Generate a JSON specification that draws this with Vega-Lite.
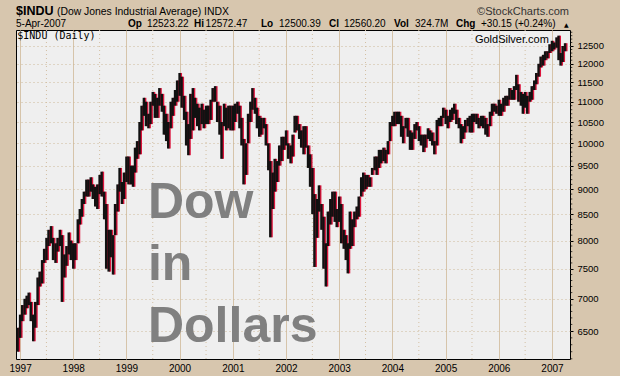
{
"$schema":"https://vega.github.io/schema/vega-lite/v6.json",
"width":554,"height":329,
"autosize":{"type":"none"},
"padding":{"left":16,"top":30,"right":50,"bottom":17},
"background":"#d7c6ae",
"config":{"view":{"fill":"#efefef","stroke":"#000000","strokeWidth":1},"font":"Liberation Sans"},
"datasets":{
"px":[
{"t":"1996-12-15","h":6550,"l":6200},
{"t":"1997-01-01","h":6750,"l":6400},
{"t":"1997-01-15","h":6900,"l":6650},
{"t":"1997-02-01","h":7000,"l":6750},
{"t":"1997-02-15","h":7050,"l":6850},
{"t":"1997-03-01","h":7100,"l":6900},
{"t":"1997-03-15","h":6950,"l":6650},
{"t":"1997-04-01","h":6750,"l":6350},
{"t":"1997-04-15","h":6950,"l":6550},
{"t":"1997-05-01","h":7350,"l":6900},
{"t":"1997-05-15","h":7450,"l":7200},
{"t":"1997-06-01","h":7650,"l":7250},
{"t":"1997-06-15","h":7850,"l":7600},
{"t":"1997-07-01","h":8050,"l":7650},
{"t":"1997-07-15","h":8200,"l":7900},
{"t":"1997-08-01","h":8270,"l":7950},
{"t":"1997-08-15","h":8050,"l":7650},
{"t":"1997-09-01","h":7950,"l":7600},
{"t":"1997-09-15","h":8050,"l":7800},
{"t":"1997-10-01","h":8200,"l":7900},
{"t":"1997-10-15","h":8100,"l":6950},
{"t":"1997-11-01","h":7750,"l":7350},
{"t":"1997-11-15","h":7900,"l":7550},
{"t":"1997-12-01","h":8150,"l":7750},
{"t":"1997-12-15","h":8000,"l":7650},
{"t":"1998-01-01","h":7950,"l":7500},
{"t":"1998-01-15","h":7950,"l":7650},
{"t":"1998-02-01","h":8400,"l":7950},
{"t":"1998-02-15","h":8600,"l":8300},
{"t":"1998-03-01","h":8800,"l":8450},
{"t":"1998-03-15","h":8950,"l":8700},
{"t":"1998-04-01","h":9200,"l":8850},
{"t":"1998-04-15","h":9200,"l":8850},
{"t":"1998-05-01","h":9250,"l":8950},
{"t":"1998-05-15","h":9100,"l":8800},
{"t":"1998-06-01","h":9050,"l":8650},
{"t":"1998-06-15","h":9100,"l":8600},
{"t":"1998-07-01","h":9300,"l":8900},
{"t":"1998-07-15","h":9370,"l":8850},
{"t":"1998-08-01","h":8950,"l":8400},
{"t":"1998-08-15","h":8700,"l":7500},
{"t":"1998-09-01","h":8200,"l":7450},
{"t":"1998-09-15","h":8200,"l":7700},
{"t":"1998-10-01","h":8100,"l":7400},
{"t":"1998-10-15","h":8700,"l":8100},
{"t":"1998-11-01","h":9100,"l":8550},
{"t":"1998-11-15","h":9450,"l":8950},
{"t":"1998-12-01","h":9150,"l":8700},
{"t":"1998-12-15","h":9350,"l":8800},
{"t":"1999-01-01","h":9700,"l":9150},
{"t":"1999-01-15","h":9700,"l":9100},
{"t":"1999-02-01","h":9500,"l":9100},
{"t":"1999-02-15","h":9500,"l":9050},
{"t":"1999-03-01","h":9900,"l":9350},
{"t":"1999-03-15","h":10050,"l":9650},
{"t":"1999-04-01","h":10500,"l":9750},
{"t":"1999-04-15","h":10900,"l":10300},
{"t":"1999-05-01","h":11100,"l":10650},
{"t":"1999-05-15","h":11000,"l":10400},
{"t":"1999-06-01","h":10700,"l":10350},
{"t":"1999-06-15","h":11000,"l":10450},
{"t":"1999-07-01","h":11250,"l":10900},
{"t":"1999-07-15","h":11200,"l":10600},
{"t":"1999-08-01","h":11100,"l":10600},
{"t":"1999-08-15","h":11350,"l":10900},
{"t":"1999-09-01","h":11200,"l":10750},
{"t":"1999-09-15","h":10900,"l":10200},
{"t":"1999-10-01","h":10700,"l":10050},
{"t":"1999-10-15","h":10500,"l":9880},
{"t":"1999-11-01","h":11000,"l":10350},
{"t":"1999-11-15","h":11100,"l":10650},
{"t":"1999-12-01","h":11300,"l":10900},
{"t":"1999-12-15","h":11550,"l":11000},
{"t":"2000-01-01","h":11750,"l":11150},
{"t":"2000-01-15","h":11650,"l":10850},
{"t":"2000-02-01","h":11150,"l":10550},
{"t":"2000-02-15","h":10750,"l":9950},
{"t":"2000-03-01","h":10450,"l":9730},
{"t":"2000-03-15","h":11200,"l":10100},
{"t":"2000-04-01","h":11350,"l":10300},
{"t":"2000-04-15","h":11100,"l":10600},
{"t":"2000-05-01","h":10950,"l":10400},
{"t":"2000-05-15","h":10850,"l":10300},
{"t":"2000-06-01","h":10950,"l":10450},
{"t":"2000-06-15","h":10800,"l":10350},
{"t":"2000-07-01","h":10900,"l":10450},
{"t":"2000-07-15","h":10900,"l":10450},
{"t":"2000-08-01","h":11050,"l":10550},
{"t":"2000-08-15","h":11350,"l":11000},
{"t":"2000-09-01","h":11400,"l":11000},
{"t":"2000-09-15","h":11000,"l":10500},
{"t":"2000-10-01","h":10900,"l":10200},
{"t":"2000-10-15","h":10500,"l":9650},
{"t":"2000-11-01","h":10950,"l":10400},
{"t":"2000-11-15","h":10850,"l":10300},
{"t":"2000-12-01","h":10900,"l":10350},
{"t":"2000-12-15","h":10900,"l":10300},
{"t":"2001-01-01","h":10900,"l":10300},
{"t":"2001-01-15","h":10950,"l":10500},
{"t":"2001-02-01","h":11000,"l":10700},
{"t":"2001-02-15","h":10900,"l":10350},
{"t":"2001-03-01","h":10600,"l":9950},
{"t":"2001-03-15","h":10100,"l":9100},
{"t":"2001-04-01","h":10000,"l":9300},
{"t":"2001-04-15","h":10700,"l":10000},
{"t":"2001-05-01","h":11000,"l":10500},
{"t":"2001-05-15","h":11350,"l":10800},
{"t":"2001-06-01","h":11100,"l":10700},
{"t":"2001-06-15","h":10850,"l":10350},
{"t":"2001-07-01","h":10650,"l":10150},
{"t":"2001-07-15","h":10600,"l":10200},
{"t":"2001-08-01","h":10600,"l":10350},
{"t":"2001-08-15","h":10450,"l":9950},
{"t":"2001-09-01","h":10000,"l":9400},
{"t":"2001-09-15","h":9600,"l":8060},
{"t":"2001-10-01","h":9350,"l":8600},
{"t":"2001-10-15","h":9650,"l":8950},
{"t":"2001-11-01","h":9600,"l":9150},
{"t":"2001-11-15","h":9950,"l":9500},
{"t":"2001-12-01","h":10150,"l":9600},
{"t":"2001-12-15","h":10150,"l":9850},
{"t":"2002-01-01","h":10300,"l":9950},
{"t":"2002-01-15","h":10000,"l":9650},
{"t":"2002-02-01","h":9950,"l":9550},
{"t":"2002-02-15","h":10200,"l":9700},
{"t":"2002-03-01","h":10650,"l":10250},
{"t":"2002-03-15","h":10650,"l":10300},
{"t":"2002-04-01","h":10450,"l":10100},
{"t":"2002-04-15","h":10300,"l":9900},
{"t":"2002-05-01","h":10400,"l":9750},
{"t":"2002-05-15","h":10400,"l":9900},
{"t":"2002-06-01","h":9950,"l":9450},
{"t":"2002-06-15","h":9750,"l":9050},
{"t":"2002-07-01","h":9450,"l":8500},
{"t":"2002-07-15","h":8900,"l":7530},
{"t":"2002-08-01","h":8800,"l":8050},
{"t":"2002-08-15","h":9080,"l":8550},
{"t":"2002-09-01","h":8700,"l":8200},
{"t":"2002-09-15","h":8450,"l":7500},
{"t":"2002-10-01","h":7950,"l":7200},
{"t":"2002-10-15","h":8550,"l":7900},
{"t":"2002-11-01","h":8800,"l":8300},
{"t":"2002-11-15","h":8950,"l":8450},
{"t":"2002-12-01","h":8950,"l":8350},
{"t":"2002-12-15","h":8600,"l":8250},
{"t":"2003-01-01","h":8850,"l":8350},
{"t":"2003-01-15","h":8700,"l":7950},
{"t":"2003-02-01","h":8200,"l":7850},
{"t":"2003-02-15","h":8100,"l":7650},
{"t":"2003-03-01","h":7950,"l":7420},
{"t":"2003-03-15","h":8550,"l":7850},
{"t":"2003-04-01","h":8400,"l":7900},
{"t":"2003-04-15","h":8550,"l":8250},
{"t":"2003-05-01","h":8650,"l":8400},
{"t":"2003-05-15","h":8850,"l":8450},
{"t":"2003-06-01","h":9250,"l":8850},
{"t":"2003-06-15","h":9350,"l":8950},
{"t":"2003-07-01","h":9300,"l":9000},
{"t":"2003-07-15","h":9300,"l":9050},
{"t":"2003-08-01","h":9250,"l":9050},
{"t":"2003-08-15","h":9450,"l":9300},
{"t":"2003-09-01","h":9700,"l":9400},
{"t":"2003-09-15","h":9700,"l":9300},
{"t":"2003-10-01","h":9850,"l":9450},
{"t":"2003-10-15","h":9850,"l":9550},
{"t":"2003-11-01","h":9900,"l":9600},
{"t":"2003-11-15","h":9850,"l":9550},
{"t":"2003-12-01","h":10050,"l":9750},
{"t":"2003-12-15","h":10500,"l":10050},
{"t":"2004-01-01","h":10650,"l":10400},
{"t":"2004-01-15","h":10750,"l":10400},
{"t":"2004-02-01","h":10750,"l":10450},
{"t":"2004-02-15","h":10750,"l":10450},
{"t":"2004-03-01","h":10650,"l":10150},
{"t":"2004-03-15","h":10400,"l":10000},
{"t":"2004-04-01","h":10600,"l":10350},
{"t":"2004-04-15","h":10600,"l":10150},
{"t":"2004-05-01","h":10300,"l":9850},
{"t":"2004-05-15","h":10250,"l":9850},
{"t":"2004-06-01","h":10450,"l":10100},
{"t":"2004-06-15","h":10500,"l":10300},
{"t":"2004-07-01","h":10400,"l":10050},
{"t":"2004-07-15","h":10200,"l":9950},
{"t":"2004-08-01","h":10200,"l":9800},
{"t":"2004-08-15","h":10200,"l":9900},
{"t":"2004-09-01","h":10350,"l":10100},
{"t":"2004-09-15","h":10300,"l":10050},
{"t":"2004-10-01","h":10250,"l":9950},
{"t":"2004-10-15","h":10050,"l":9750},
{"t":"2004-11-01","h":10550,"l":9950},
{"t":"2004-11-15","h":10600,"l":10400},
{"t":"2004-12-01","h":10650,"l":10400},
{"t":"2004-12-15","h":10850,"l":10600},
{"t":"2005-01-01","h":10800,"l":10450},
{"t":"2005-01-15","h":10650,"l":10350},
{"t":"2005-02-01","h":10800,"l":10500},
{"t":"2005-02-15","h":10850,"l":10550},
{"t":"2005-03-01","h":10950,"l":10700},
{"t":"2005-03-15","h":10800,"l":10450},
{"t":"2005-04-01","h":10600,"l":10350},
{"t":"2005-04-15","h":10450,"l":10000},
{"t":"2005-05-01","h":10400,"l":10100},
{"t":"2005-05-15","h":10550,"l":10250},
{"t":"2005-06-01","h":10600,"l":10400},
{"t":"2005-06-15","h":10650,"l":10250},
{"t":"2005-07-01","h":10700,"l":10250},
{"t":"2005-07-15","h":10700,"l":10500},
{"t":"2005-08-01","h":10700,"l":10450},
{"t":"2005-08-15","h":10600,"l":10350},
{"t":"2005-09-01","h":10650,"l":10400},
{"t":"2005-09-15","h":10650,"l":10350},
{"t":"2005-10-01","h":10600,"l":10200},
{"t":"2005-10-15","h":10450,"l":10150},
{"t":"2005-11-01","h":10750,"l":10400},
{"t":"2005-11-15","h":10950,"l":10650},
{"t":"2005-12-01","h":10950,"l":10750},
{"t":"2005-12-15","h":10900,"l":10700},
{"t":"2006-01-01","h":11050,"l":10650},
{"t":"2006-01-15","h":10950,"l":10650},
{"t":"2006-02-01","h":11100,"l":10750},
{"t":"2006-02-15","h":11150,"l":10900},
{"t":"2006-03-01","h":11150,"l":10900},
{"t":"2006-03-15","h":11350,"l":11050},
{"t":"2006-04-01","h":11300,"l":11050},
{"t":"2006-04-15","h":11400,"l":11050},
{"t":"2006-05-01","h":11700,"l":11300},
{"t":"2006-05-15","h":11450,"l":11000},
{"t":"2006-06-01","h":11250,"l":10900},
{"t":"2006-06-15","h":11200,"l":10700},
{"t":"2006-07-01","h":11250,"l":10850},
{"t":"2006-07-15","h":11150,"l":10700},
{"t":"2006-08-01","h":11250,"l":11000},
{"t":"2006-08-15","h":11400,"l":11050},
{"t":"2006-09-01","h":11550,"l":11300},
{"t":"2006-09-15","h":11750,"l":11450},
{"t":"2006-10-01","h":12000,"l":11650},
{"t":"2006-10-15","h":12200,"l":11900},
{"t":"2006-11-01","h":12250,"l":11950},
{"t":"2006-11-15","h":12350,"l":12100},
{"t":"2006-12-01","h":12350,"l":12150},
{"t":"2006-12-15","h":12550,"l":12300},
{"t":"2007-01-01","h":12650,"l":12350},
{"t":"2007-01-15","h":12600,"l":12400},
{"t":"2007-02-01","h":12750,"l":12450},
{"t":"2007-02-15","h":12800,"l":12100},
{"t":"2007-03-01","h":12300,"l":11950},
{"t":"2007-03-15","h":12500,"l":12050},
{"t":"2007-04-01","h":12580,"l":12350}
],
"mid":[{"t":"1997-07-01"},{"t":"1998-07-01"},{"t":"1999-07-01"},{"t":"2000-07-01"},{"t":"2001-07-01"},{"t":"2002-07-01"},{"t":"2003-07-01"},{"t":"2004-07-01"},{"t":"2005-07-01"},{"t":"2006-07-01"}],
"minor":[{"v":6100},{"v":6200},{"v":6300},{"v":6400},{"v":6600},{"v":6700},{"v":6800},{"v":6900},{"v":7100},{"v":7200},{"v":7300},{"v":7400},{"v":7600},{"v":7700},{"v":7800},{"v":7900},{"v":8100},{"v":8200},{"v":8300},{"v":8400},{"v":8600},{"v":8700},{"v":8800},{"v":8900},{"v":9100},{"v":9200},{"v":9300},{"v":9400},{"v":9600},{"v":9700},{"v":9800},{"v":9900},{"v":10100},{"v":10200},{"v":10300},{"v":10400},{"v":10600},{"v":10700},{"v":10800},{"v":10900},{"v":11100},{"v":11200},{"v":11300},{"v":11400},{"v":11600},{"v":11700},{"v":11800},{"v":11900},{"v":12100},{"v":12200},{"v":12300},{"v":12400},{"v":12600},{"v":12700},{"v":12800},{"v":12900}],
"big":[{"t":"1999-05-29","p":8419,"s":"Dow"},{"t":"1999-05-29","p":7309,"s":"in"},{"t":"1999-05-29","p":6344,"s":"Dollars"}],
"hb1":[{"t":"1996-12-04","p":13406,"s":"$INDU"}],
"hr1":[{"t":"1997-09-11","p":13406,"s":"(Dow Jones Industrial Average) INDX"}],
"hr1r":[{"t":"2007-04-28","p":13406,"s":"©StockCharts.com"}],
"hb2":[{"t":"1999-01-12","p":13057,"s":"Op"},{"t":"2000-04-09","p":13057,"s":"Hi"},{"t":"2001-07-13","p":13057,"s":"Lo"},{"t":"2002-10-23","p":13057,"s":"Cl"},{"t":"2004-01-13","p":13057,"s":"Vol"},{"t":"2005-03-13","p":13057,"s":"Chg"}],
"hr2":[{"t":"1996-12-04","p":13057,"s":"5-Apr-2007"},{"t":"1999-05-22","p":13057,"s":"12523.22"},{"t":"2000-06-28","p":13057,"s":"12572.47"},{"t":"2001-11-14","p":13057,"s":"12500.39"},{"t":"2003-02-03","p":13057,"s":"12560.20"},{"t":"2004-06-05","p":13057,"s":"324.7M"},{"t":"2005-09-01","p":13057,"s":"+30.15 (+0.24%)"}],
"tri":[{"t":"2007-03-25","p":13057,"s":"▲"}],
"inl":[{"t":"1996-12-13","p":12702,"s":"$INDU (Daily)"}],
"inr":[{"t":"2006-12-11","p":12595,"s":"GoldSilver.com"}]
},
"layer":[
{"data":{"name":"mid"},"mark":{"type":"rule","color":"#d3bfa3","strokeWidth":1,"strokeDash":[1,3]},
 "encoding":{"x":{"field":"t","type":"temporal","title":null,"scale":{"type":"utc","domain":[{"year":1996,"month":12,"date":4,"utc":true},{"year":2007,"month":5,"date":5,"utc":true}]},
   "axis":{"title":null,"values":[{"year":1997,"month":1,"date":1,"utc":true},{"year":1998,"month":1,"date":1,"utc":true},{"year":1999,"month":1,"date":1,"utc":true},{"year":2000,"month":1,"date":1,"utc":true},{"year":2001,"month":1,"date":1,"utc":true},{"year":2002,"month":1,"date":1,"utc":true},{"year":2003,"month":1,"date":1,"utc":true},{"year":2004,"month":1,"date":1,"utc":true},{"year":2005,"month":1,"date":1,"utc":true},{"year":2006,"month":1,"date":1,"utc":true},{"year":2007,"month":1,"date":1,"utc":true}],
   "format":"%Y","formatType":"utc","labelFont":"Liberation Sans","labelFontSize":10,"labelColor":"#000000","ticks":false,"domain":false,"grid":true,"gridColor":"#d6c4aa","gridWidth":1,"gridDash":[],"labelPadding":4,"labelFlush":false,"labelOverlap":false}}}},
{"data":{"name":"px"},"mark":{"type":"rule","color":"#dc143c","strokeWidth":2.2,"xOffset":1.4},
 "encoding":{"x":{"field":"t","type":"temporal","title":null,"scale":{"type":"utc","domain":[{"year":1996,"month":12,"date":4,"utc":true},{"year":2007,"month":5,"date":5,"utc":true}]}},
  "y":{"field":"l","type":"quantitative","title":null,"scale":{"type":"log","domain":[6097,12967],"nice":false},
   "axis":{"title":null,"orient":"right","values":[6500,7000,7500,8000,8500,9000,9500,10000,10500,11000,11500,12000,12500],"format":"d","labelFont":"Liberation Sans","labelFontSize":9.5,"labelColor":"#000000","tickSize":3,"tickColor":"#000000","domain":false,"grid":true,"gridColor":"#cdb899","gridDash":[1,3],"labelPadding":4,"labelOverlap":false,"labelFlush":false}},
  "y2":{"field":"h"}}},
{"data":{"name":"px"},"mark":{"type":"rule","color":"#111111","strokeWidth":2.4},
 "encoding":{"x":{"field":"t","type":"temporal","title":null,"scale":{"type":"utc","domain":[{"year":1996,"month":12,"date":4,"utc":true},{"year":2007,"month":5,"date":5,"utc":true}]}},
  "y":{"field":"l","type":"quantitative","title":null,"scale":{"type":"log","domain":[6097,12967],"nice":false}},
  "y2":{"field":"h"}}},
{"data":{"name":"minor"},"mark":{"type":"tick","orient":"horizontal","size":2,"thickness":1,"color":"#000000"},
 "encoding":{"x":{"datum":{"year":2007,"month":5,"date":14,"utc":true},"type":"temporal","title":null,"scale":{"type":"utc","domain":[{"year":1996,"month":12,"date":4,"utc":true},{"year":2007,"month":5,"date":5,"utc":true}]}},
  "y":{"field":"v","type":"quantitative","title":null,"scale":{"type":"log","domain":[6097,12967],"nice":false}}}},
{"data":{"name":"big"},"mark":{"type":"text","align":"left","baseline":"alphabetic","font":"Liberation Sans","fontWeight":"bold","fontSize":50,"color":"#808080"},
 "encoding":{"x":{"field":"t","type":"temporal","title":null,"scale":{"type":"utc","domain":[{"year":1996,"month":12,"date":4,"utc":true},{"year":2007,"month":5,"date":5,"utc":true}]}},
  "y":{"field":"p","type":"quantitative","title":null,"scale":{"type":"log","domain":[6097,12967],"nice":false}},"text":{"field":"s"}}},
{"data":{"name":"hb1"},"mark":{"type":"text","align":"left","baseline":"alphabetic","font":"Liberation Sans","fontWeight":"bold","fontSize":12.5,"color":"#000000"},
 "encoding":{"x":{"field":"t","type":"temporal","title":null,"scale":{"type":"utc","domain":[{"year":1996,"month":12,"date":4,"utc":true},{"year":2007,"month":5,"date":5,"utc":true}]}},
  "y":{"field":"p","type":"quantitative","title":null,"scale":{"type":"log","domain":[6097,12967],"nice":false}},"text":{"field":"s"}}},
{"data":{"name":"hr1"},"mark":{"type":"text","align":"left","baseline":"alphabetic","font":"Liberation Sans","fontSize":10.4,"color":"#000000"},
 "encoding":{"x":{"field":"t","type":"temporal","title":null,"scale":{"type":"utc","domain":[{"year":1996,"month":12,"date":4,"utc":true},{"year":2007,"month":5,"date":5,"utc":true}]}},
  "y":{"field":"p","type":"quantitative","title":null,"scale":{"type":"log","domain":[6097,12967],"nice":false}},"text":{"field":"s"}}},
{"data":{"name":"hr1r"},"mark":{"type":"text","align":"right","baseline":"alphabetic","font":"Liberation Sans","fontSize":11,"color":"#333333"},
 "encoding":{"x":{"field":"t","type":"temporal","title":null,"scale":{"type":"utc","domain":[{"year":1996,"month":12,"date":4,"utc":true},{"year":2007,"month":5,"date":5,"utc":true}]}},
  "y":{"field":"p","type":"quantitative","title":null,"scale":{"type":"log","domain":[6097,12967],"nice":false}},"text":{"field":"s"}}},
{"data":{"name":"hb2"},"mark":{"type":"text","align":"left","baseline":"alphabetic","font":"Liberation Sans","fontWeight":"bold","fontSize":10,"color":"#000000"},
 "encoding":{"x":{"field":"t","type":"temporal","title":null,"scale":{"type":"utc","domain":[{"year":1996,"month":12,"date":4,"utc":true},{"year":2007,"month":5,"date":5,"utc":true}]}},
  "y":{"field":"p","type":"quantitative","title":null,"scale":{"type":"log","domain":[6097,12967],"nice":false}},"text":{"field":"s"}}},
{"data":{"name":"hr2"},"mark":{"type":"text","align":"left","baseline":"alphabetic","font":"Liberation Sans","fontSize":10,"color":"#000000"},
 "encoding":{"x":{"field":"t","type":"temporal","title":null,"scale":{"type":"utc","domain":[{"year":1996,"month":12,"date":4,"utc":true},{"year":2007,"month":5,"date":5,"utc":true}]}},
  "y":{"field":"p","type":"quantitative","title":null,"scale":{"type":"log","domain":[6097,12967],"nice":false}},"text":{"field":"s"}}},
{"data":{"name":"tri"},"mark":{"type":"text","align":"left","baseline":"alphabetic","font":"DejaVu Sans","fontSize":6,"color":"#000000"},
 "encoding":{"x":{"field":"t","type":"temporal","title":null,"scale":{"type":"utc","domain":[{"year":1996,"month":12,"date":4,"utc":true},{"year":2007,"month":5,"date":5,"utc":true}]}},
  "y":{"field":"p","type":"quantitative","title":null,"scale":{"type":"log","domain":[6097,12967],"nice":false}},"text":{"field":"s"}}},
{"data":{"name":"inl"},"mark":{"type":"text","align":"left","baseline":"alphabetic","font":"DejaVu Sans Mono","fontSize":10,"color":"#000000"},
 "encoding":{"x":{"field":"t","type":"temporal","title":null,"scale":{"type":"utc","domain":[{"year":1996,"month":12,"date":4,"utc":true},{"year":2007,"month":5,"date":5,"utc":true}]}},
  "y":{"field":"p","type":"quantitative","title":null,"scale":{"type":"log","domain":[6097,12967],"nice":false}},"text":{"field":"s"}}},
{"data":{"name":"inr"},"mark":{"type":"text","align":"right","baseline":"alphabetic","font":"Liberation Sans","fontSize":11,"color":"#000000"},
 "encoding":{"x":{"field":"t","type":"temporal","title":null,"scale":{"type":"utc","domain":[{"year":1996,"month":12,"date":4,"utc":true},{"year":2007,"month":5,"date":5,"utc":true}]}},
  "y":{"field":"p","type":"quantitative","title":null,"scale":{"type":"log","domain":[6097,12967],"nice":false}},"text":{"field":"s"}}}
]
}
